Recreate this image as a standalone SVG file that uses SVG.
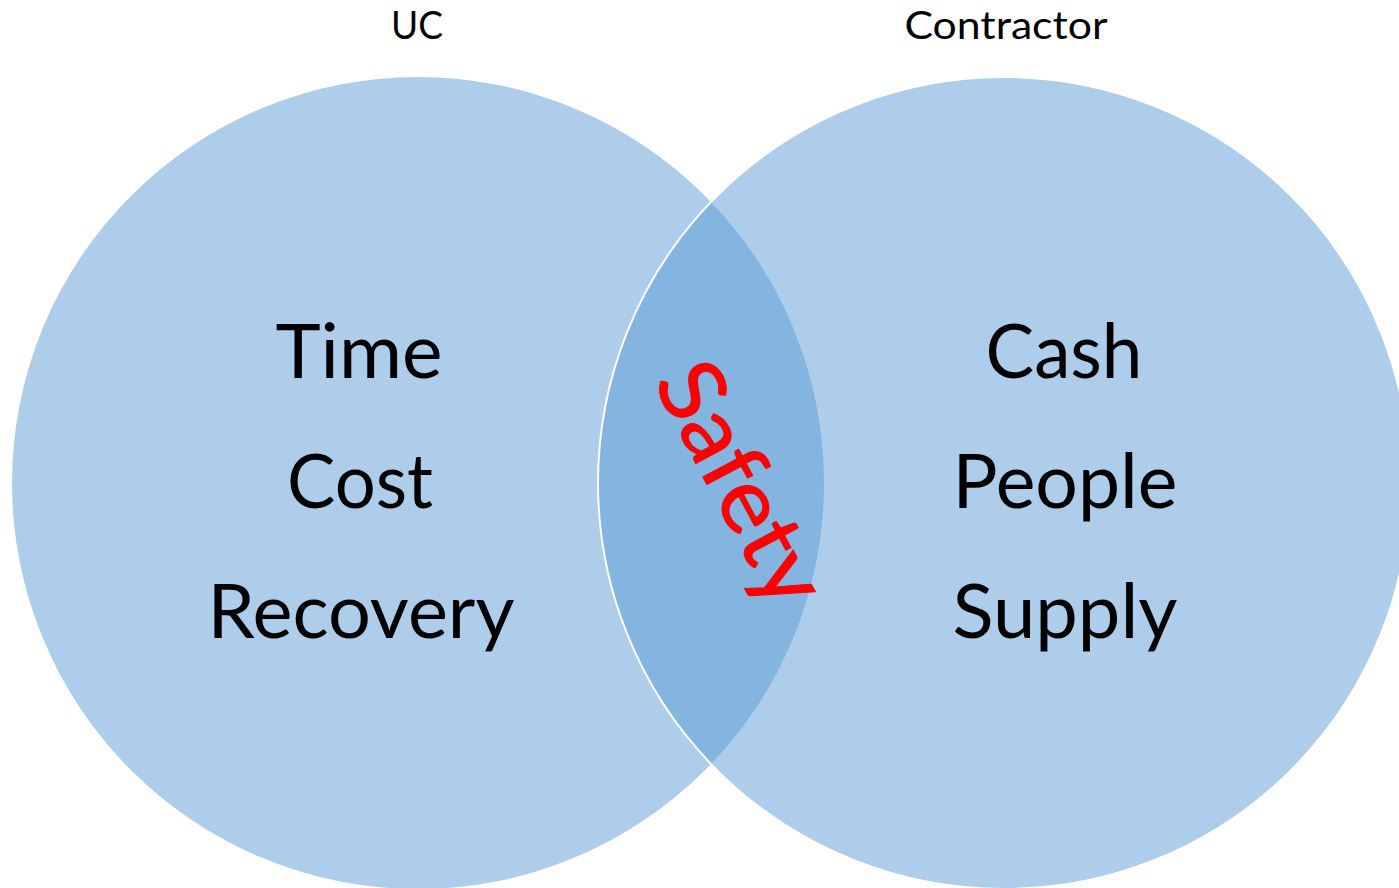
<svg xmlns="http://www.w3.org/2000/svg" width="1399" height="888" viewBox="0 0 1399 888">
<style>
.circ{fill:#5B9BD5;fill-opacity:0.5}
.lbl{font-family:Lato,"Open Sans","Liberation Sans",sans-serif;fill:#000;text-anchor:middle}
.big{font-size:75px}
.head{font-size:39px}
.safety{font-family:Lato,"Open Sans","Liberation Sans",sans-serif;font-size:90px;fill:#FF0000;text-anchor:middle;stroke:#FF0000;stroke-width:1}
</style>
<rect width="1399" height="888" fill="#FFFFFF"/>
<g id="uc">
<circle class="circ" cx="418" cy="483" r="406"/>
<text class="lbl head" x="417" y="39" textLength="52" lengthAdjust="spacingAndGlyphs">UC</text>
<text class="lbl big" x="359" y="378" textLength="167" lengthAdjust="spacingAndGlyphs">Time</text>
<text class="lbl big" x="360" y="508" textLength="146" lengthAdjust="spacingAndGlyphs">Cost</text>
<text class="lbl big" x="361" y="638" textLength="307" lengthAdjust="spacingAndGlyphs">Recovery</text>
</g>
<g id="contractor">
<circle class="circ" cx="1004" cy="483" r="406" stroke="#FFFFFF" stroke-width="2"/>
<text class="lbl head" x="1006" y="39" textLength="203" lengthAdjust="spacingAndGlyphs">Contractor</text>
<text class="lbl big" x="1064" y="378" textLength="157" lengthAdjust="spacingAndGlyphs">Cash</text>
<text class="lbl big" x="1065" y="508" textLength="225" lengthAdjust="spacingAndGlyphs">People</text>
<text class="lbl big" x="1065" y="638" textLength="225" lengthAdjust="spacingAndGlyphs">Supply</text>
</g>
<g id="overlap">
<text class="safety" transform="translate(714 498) rotate(62)" x="0" y="0" textLength="262" lengthAdjust="spacingAndGlyphs">Safety</text>
</g>
<g id="connectors"/>
</svg>
